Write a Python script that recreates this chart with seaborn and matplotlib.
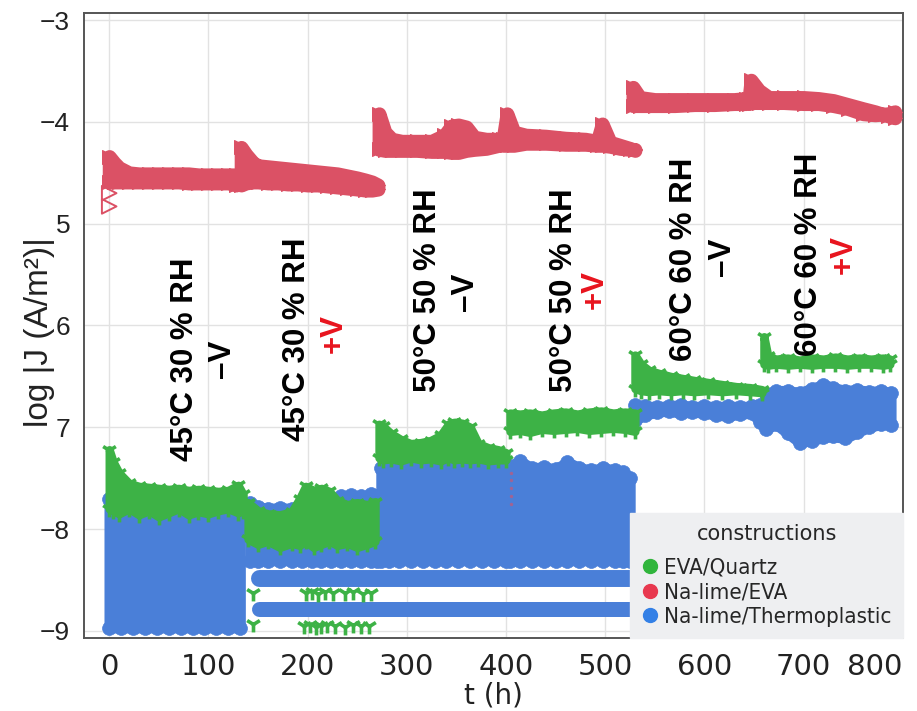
import matplotlib
matplotlib.use("Agg")
import matplotlib.pyplot as plt
from matplotlib.lines import Line2D
from matplotlib.ticker import MultipleLocator, FixedLocator
import seaborn as sns

sns.set_theme(style="white")
plt.rcParams['font.family'] = ['Liberation Sans', 'DejaVu Sans']

# ---------------- data: envelopes of the logged current density ----------------
# Each test condition is stored as time (h) plus upper/lower marker-centre values
# of log|J| for every construction.

# EVA/Quartz
eq_45n_t  = [0, 4, 10, 20, 30, 40, 50, 60, 70, 80, 90, 100, 110, 120, 130, 135]
eq_45n_hi = [-7.22, -7.34, -7.45, -7.55, -7.58, -7.59, -7.60, -7.61, -7.60, -7.62, -7.61, -7.62, -7.63, -7.62, -7.57, -7.66]
eq_45n_lo = [-7.80, -7.82, -7.85, -7.80, -7.86, -7.82, -7.88, -7.84, -7.80, -7.86, -7.83, -7.85, -7.82, -7.80, -7.84, -7.82]
eq_45p_t  = [140, 150, 160, 172, 184, 192, 198, 206, 214, 222, 230, 240, 250, 260, 268]
eq_45p_hi = [-7.74, -7.82, -7.85, -7.86, -7.83, -7.70, -7.58, -7.62, -7.60, -7.63, -7.72, -7.76, -7.74, -7.76, -7.73]
eq_45p_lo = [-8.10, -8.15, -8.12, -8.18, -8.14, -8.16, -8.12, -8.18, -8.15, -8.12, -8.16, -8.14, -8.18, -8.15, -8.12]
eq_50n_t  = [272, 276, 284, 294, 304, 314, 324, 334, 342, 348, 356, 364, 372, 382, 392, 400]
eq_50n_hi = [-6.97, -6.99, -7.06, -7.12, -7.16, -7.15, -7.13, -7.08, -6.97, -6.95, -6.96, -7.00, -7.16, -7.20, -7.22, -7.25]
eq_50n_lo = [-7.30, -7.32, -7.31, -7.33, -7.30, -7.32, -7.31, -7.33, -7.30, -7.32, -7.31, -7.32, -7.31, -7.33, -7.32, -7.32]
eq_50p_t  = [404, 414, 424, 436, 448, 460, 472, 484, 496, 508, 520, 530]
eq_50p_hi = [-6.86, -6.87, -6.86, -6.88, -6.86, -6.85, -6.87, -6.85, -6.84, -6.86, -6.85, -6.86]
eq_50p_lo = [-7.04, -7.03, -7.05, -7.02, -7.03, -7.02, -7.01, -7.03, -7.02, -7.01, -7.02, -7.04]
eq_60n_t  = [530, 536, 544, 554, 566, 578, 590, 604, 618, 632, 646, 658]
eq_60n_hi = [-6.29, -6.38, -6.44, -6.47, -6.50, -6.52, -6.54, -6.56, -6.58, -6.60, -6.61, -6.63]
eq_60n_lo = [-6.62, -6.64, -6.65, -6.64, -6.65, -6.64, -6.65, -6.64, -6.65, -6.64, -6.65, -6.66]
eq_60p_t  = [660, 664, 672, 684, 696, 708, 720, 732, 744, 756, 768, 780, 787]
eq_60p_hi = [-6.11, -6.30, -6.33, -6.32, -6.34, -6.32, -6.33, -6.31, -6.33, -6.32, -6.33, -6.32, -6.33]
eq_60p_lo = [-6.38, -6.39, -6.38, -6.39, -6.38, -6.39, -6.38, -6.38, -6.39, -6.38, -6.38, -6.39, -6.38]
# isolated low readings
eq_low_t = [145, 198, 204, 210, 218, 226, 238, 246, 256, 264,
            145, 196, 202, 208, 214, 220, 228, 238, 246, 254, 262]
eq_low_v = [-8.63, -8.63, -8.62, -8.64, -8.62, -8.63, -8.63, -8.62, -8.64, -8.63,
            -8.93, -8.95, -8.94, -8.96, -8.95, -8.94, -8.95, -8.96, -8.94, -8.95, -8.95]

# Na-lime/EVA
ne_45n_t  = [0, 5, 10, 20, 30, 40, 50, 60, 70, 80, 90, 100, 110, 120, 128]
ne_45n_hi = [-4.34, -4.40, -4.45, -4.50, -4.51, -4.51, -4.51, -4.51, -4.51, -4.51, -4.52, -4.52, -4.52, -4.52, -4.52]
ne_45n_lo = [-4.59, -4.59, -4.59, -4.59, -4.59, -4.59, -4.59, -4.59, -4.59, -4.60, -4.60, -4.60, -4.60, -4.60, -4.62]
ne_45p_t  = [133, 138, 145, 150, 160, 170, 180, 190, 200, 210, 220, 230, 240, 250, 258, 265, 271]
ne_45p_hi = [-4.25, -4.32, -4.40, -4.43, -4.44, -4.45, -4.46, -4.47, -4.48, -4.49, -4.50, -4.51, -4.53, -4.55, -4.57, -4.59, -4.62]
ne_45p_lo = [-4.62, -4.60, -4.59, -4.59, -4.60, -4.60, -4.61, -4.61, -4.62, -4.62, -4.63, -4.64, -4.65, -4.66, -4.67, -4.67, -4.66]
ne_50n_t  = [272, 278, 285, 295, 310, 325, 338, 345, 352, 360, 368, 380, 393]
ne_50n_hi = [-3.92, -4.10, -4.17, -4.19, -4.19, -4.19, -4.13, -4.04, -4.03, -4.05, -4.15, -4.17, -4.17]
ne_50n_lo = [-4.27, -4.28, -4.28, -4.28, -4.28, -4.29, -4.29, -4.30, -4.30, -4.28, -4.27, -4.26, -4.23]
ne_50p_t  = [397, 401, 408, 420, 440, 460, 480, 492, 497, 505, 515, 525, 530]
ne_50p_hi = [-4.17, -3.92, -4.10, -4.13, -4.14, -4.16, -4.17, -4.19, -4.02, -4.20, -4.23, -4.26, -4.28]
ne_50p_lo = [-4.23, -4.23, -4.23, -4.21, -4.21, -4.22, -4.22, -4.23, -4.23, -4.24, -4.26, -4.27, -4.27]
ne_60n_t  = [528, 535, 550, 570, 590, 610, 630, 642]
ne_60n_hi = [-3.66, -3.76, -3.78, -3.78, -3.78, -3.78, -3.78, -3.77]
ne_60n_lo = [-3.84, -3.84, -3.84, -3.84, -3.83, -3.83, -3.82, -3.82]
ne_60p_t  = [645, 647, 655, 665, 680, 700, 715, 730, 745, 760, 772, 785, 792]
ne_60p_hi = [-3.77, -3.59, -3.69, -3.76, -3.76, -3.76, -3.77, -3.79, -3.83, -3.87, -3.90, -3.94, -3.96]
ne_60p_lo = [-3.82, -3.81, -3.81, -3.81, -3.81, -3.82, -3.82, -3.84, -3.87, -3.92, -3.93, -3.92, -3.90]
ne_first_t = [0, 0]
ne_first_v = [-4.70, -4.83]
ne_stray_t = [405, 405, 405, 405, 405]
ne_stray_v = [-7.45, -7.52, -7.60, -7.68, -7.75]

# Na-lime/Thermoplastic
nt_45n_t  = [0, 12, 24, 36, 48, 60, 72, 84, 96, 108, 120, 132]
nt_45n_hi = [-7.70, -7.72, -7.70, -7.73, -7.71, -7.70, -7.72, -7.70, -7.71, -7.72, -7.70, -7.72]
nt_45n_lo = [-8.97, -8.97, -8.97, -8.97, -8.97, -8.97, -8.97, -8.97, -8.97, -8.97, -8.97, -8.97]
nt_45p_t  = [142, 150, 160, 172, 184, 194, 204, 214, 224, 234, 244, 254, 264, 270]
nt_45p_hi = [-7.74, -7.78, -7.80, -7.79, -7.80, -7.76, -7.74, -7.75, -7.73, -7.68, -7.67, -7.68, -7.66, -7.68]
nt_45p_lo = [-8.31, -8.31, -8.31, -8.31, -8.31, -8.31, -8.31, -8.31, -8.31, -8.31, -8.31, -8.31, -8.31, -8.31]
nt_50n_t  = [274, 282, 292, 304, 316, 328, 340, 352, 364, 376, 388, 400]
nt_50n_hi = [-7.40, -7.36, -7.39, -7.40, -7.37, -7.39, -7.38, -7.40, -7.37, -7.40, -7.39, -7.41]
nt_50n_lo = [-8.31, -8.31, -8.31, -8.31, -8.31, -8.31, -8.31, -8.31, -8.31, -8.31, -8.31, -8.31]
nt_50p_t  = [404, 414, 426, 438, 450, 462, 474, 486, 498, 510, 518, 525]
nt_50p_hi = [-7.38, -7.33, -7.40, -7.39, -7.41, -7.34, -7.40, -7.42, -7.40, -7.42, -7.44, -7.50]
nt_50p_lo = [-8.31, -8.31, -8.31, -8.31, -8.31, -8.31, -8.31, -8.31, -8.31, -8.31, -8.31, -8.31]
nt_60n_t  = [530, 540, 552, 564, 576, 588, 600, 612, 624, 636, 648, 656]
nt_60n_hi = [-6.78, -6.79, -6.80, -6.79, -6.78, -6.80, -6.79, -6.80, -6.79, -6.80, -6.79, -6.78]
nt_60n_lo = [-6.93, -6.88, -6.85, -6.84, -6.86, -6.85, -6.86, -6.88, -6.89, -6.87, -6.86, -6.95]
nt_60p_t  = [662, 672, 684, 696, 708, 720, 730, 742, 754, 766, 778, 788]
nt_60p_hi = [-6.67, -6.64, -6.64, -6.66, -6.62, -6.58, -6.61, -6.64, -6.63, -6.65, -6.64, -6.66]
nt_60p_lo = [-7.02, -6.97, -7.06, -7.15, -7.13, -7.10, -7.09, -7.11, -7.05, -7.00, -6.97, -6.98]
# two steady readings that persist from 150 h on
nt_rows_t = [151, 530]
nt_row_a = [-8.485, -8.485]
nt_row_b = [-8.785, -8.785]

# ---------------- annotations ----------------
cond_labels = ["45°C 30 % RH", "45°C 30 % RH", "50°C 50 % RH",
               "50°C 50 % RH", "60°C 60 % RH", "60°C 60 % RH"]
cond_t = [76, 189, 321, 458, 579, 705]
cond_y = [-6.33, -6.14, -5.65, -5.65, -5.35, -5.30]
bias_labels = ["–V", "+V", "–V", "+V", "–V", "+V"]
bias_t = [114, 226, 359, 489, 618, 741]
bias_y = [-6.33, -6.08, -5.67, -5.65, -5.33, -5.30]

x_ticks = [0, 100, 200, 300, 400, 500, 600, 700, 800]
y_ticks = [-9, -8, -7, -6, -5, -4, -3]
y_ticklabels = ["−9", "−8", "7", "6", "5", "−4", "−3"]

constructions = ["EVA/Quartz", "Na-lime/EVA", "Na-lime/Thermoplastic"]
C_GREEN, C_RED, C_BLUE = "#3DB246", "#DB5165", "#4A7FD8"
legend_colors = ["#30B53C", "#E8384F", "#3380E6"]

# ---------------- figure ----------------
fig = plt.figure(figsize=(9.17, 7.11), dpi=100)
ax = fig.add_axes([0.0916, 0.1027, 0.8931, 0.879])
ax.set_axisbelow(True)


def band(t, hi, lo, color, marker, size, mlw, stroke, z):
    """Dense run of readings: filled envelope, outlined to marker width, plus edge markers."""
    ax.fill_between(t, lo, hi, facecolor=color, edgecolor=color, linewidth=stroke,
                    joinstyle="round", zorder=z)
    xs = list(t) + list(t)
    ys = list(hi) + list(lo)
    if marker in ("1", "2", "3", "4"):
        sns.scatterplot(x=xs, y=ys, marker=marker, color=color, s=size,
                        linewidth=mlw, ax=ax, legend=False, zorder=z)
    else:
        sns.scatterplot(x=xs, y=ys, marker=marker, color=color, s=size,
                        edgecolor=color, linewidth=mlw, ax=ax, legend=False, zorder=z)


# Na-lime/Thermoplastic (lowest layer)
for t, hi, lo in [(nt_45n_t, nt_45n_hi, nt_45n_lo), (nt_45p_t, nt_45p_hi, nt_45p_lo),
                  (nt_50n_t, nt_50n_hi, nt_50n_lo), (nt_50p_t, nt_50p_hi, nt_50p_lo),
                  (nt_60n_t, nt_60n_hi, nt_60n_lo), (nt_60p_t, nt_60p_hi, nt_60p_lo)]:
    band(t, hi, lo, C_BLUE, "o", 100, 0.5, 7.5, 2)
ax.plot(nt_rows_t, nt_row_a, color=C_BLUE, lw=12.2, solid_capstyle="round", zorder=2)
ax.plot(nt_rows_t, nt_row_b, color=C_BLUE, lw=10.8, solid_capstyle="round", zorder=2)

# EVA/Quartz
for t, hi, lo in [(eq_45n_t, eq_45n_hi, eq_45n_lo), (eq_45p_t, eq_45p_hi, eq_45p_lo),
                  (eq_50n_t, eq_50n_hi, eq_50n_lo), (eq_50p_t, eq_50p_hi, eq_50p_lo),
                  (eq_60n_t, eq_60n_hi, eq_60n_lo), (eq_60p_t, eq_60p_hi, eq_60p_lo)]:
    band(t, hi, lo, C_GREEN, "1", 130, 2.6, 6.0, 3)
sns.scatterplot(x=eq_low_t, y=eq_low_v, marker="1", color=C_GREEN, s=130,
                linewidth=2.6, ax=ax, legend=False, zorder=3)

# Na-lime/EVA
for t, hi, lo in [(ne_45n_t, ne_45n_hi, ne_45n_lo), (ne_45p_t, ne_45p_hi, ne_45p_lo),
                  (ne_50n_t, ne_50n_hi, ne_50n_lo), (ne_50p_t, ne_50p_hi, ne_50p_lo),
                  (ne_60n_t, ne_60n_hi, ne_60n_lo), (ne_60p_t, ne_60p_hi, ne_60p_lo)]:
    band(t, hi, lo, C_RED, ">", 100, 0.8, 10.0, 4)
ax.scatter(ne_first_t, ne_first_v, marker=">", s=110, facecolor="none",
           edgecolor=C_RED, linewidth=1.4, zorder=4)
sns.scatterplot(x=ne_stray_t, y=ne_stray_v, marker="o", color=C_RED, s=6,
                linewidth=0, alpha=0.6, ax=ax, legend=False, zorder=4)

# condition annotations
for lab, t, y in zip(cond_labels, cond_t, cond_y):
    ax.text(t, y, lab, rotation=90, ha="center", va="center", fontsize=22.5,
            fontweight="bold", color="black", zorder=6)
for lab, t, y in zip(bias_labels, bias_t, bias_y):
    ax.text(t, y, lab, rotation=90, ha="center", va="center", fontsize=22.5,
            fontweight="bold", color="black" if lab.startswith("–") else "#E8141E", zorder=6)

# axes
ax.set_xlim(-25.4, 800.2)
ax.set_ylim(-9.07, -2.93)
ax.xaxis.set_major_locator(FixedLocator(x_ticks))
ax.xaxis.set_minor_locator(MultipleLocator(20))
ax.yaxis.set_major_locator(FixedLocator(y_ticks))
ax.yaxis.set_minor_locator(MultipleLocator(0.2))
ax.set_yticklabels(y_ticklabels)
ax.set_xticklabels([str(v) for v in x_ticks])
ax.grid(True, which="major", color="#E2E2E2", lw=1.0)
ax.tick_params(axis="both", which="major", direction="out", length=7, width=1.2,
               color="#444444", labelcolor="#222222")
ax.tick_params(axis="both", which="minor", direction="out", length=4, width=1.0,
               color="#444444")
ax.tick_params(axis="y", labelsize=19, pad=3)
ax.tick_params(axis="x", labelsize=21, pad=4)
for lab in ax.get_xticklabels():
    lab.set_fontfamily(["Liberation Sans Narrow", "DejaVu Sans"])
ax.get_xticklabels()[-1].set_horizontalalignment("right")
for sp in ax.spines.values():
    sp.set_visible(True)
    sp.set_color("#555555")
    sp.set_linewidth(1.4)

ax.set_xlabel("t (h)", fontsize=20, labelpad=0, color="#222222",
              family=["Liberation Sans Narrow", "DejaVu Sans"])
ax.set_ylabel("log |J (A/m²)|", fontsize=24, color="#222222")
ax.yaxis.set_label_coords(-0.036, 0.49)

# legend
handles = [Line2D([], [], marker="o", ls="", color=c, markersize=10) for c in legend_colors]
leg = ax.legend(handles, constructions, title="constructions", loc="lower left",
                bbox_to_anchor=(0.667, 0.0, 0.333, 0.208), mode="expand",
                frameon=True, fancybox=False, facecolor="#EEEFF1", edgecolor="#EEEFF1",
                framealpha=1, handletextpad=0.2, labelspacing=0.2, borderpad=0.5,
                handlelength=0.8, borderaxespad=0,
                prop={"family": ["DejaVu Sans"], "stretch": "condensed", "size": 16},
                title_fontproperties={"family": ["DejaVu Sans"], "size": 15})
leg._legend_box.sep = 10
leg.set_zorder(10)

fig.savefig("out.png", dpi=100)
